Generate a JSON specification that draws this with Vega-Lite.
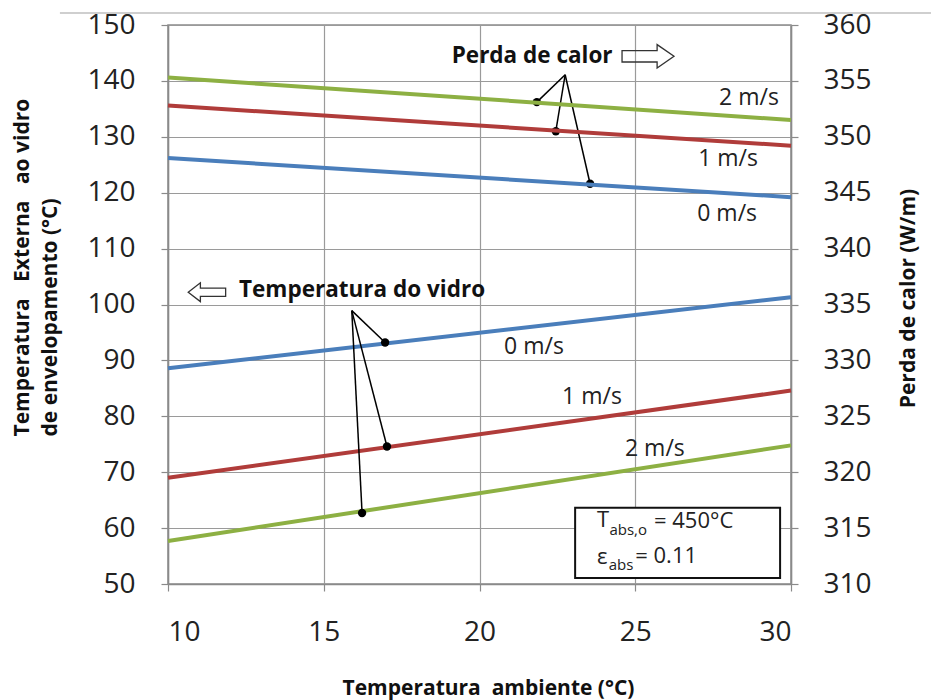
{
  "$schema": "https://vega.github.io/schema/vega-lite/v6.json",
  "width": 623,
  "height": 559,
  "autosize": {"type": "none"},
  "padding": {"left": 168, "top": 25, "right": 140, "bottom": 116},
  "background": "white",
  "config": {
    "view": {"stroke": "#8a8a8a", "strokeWidth": 1.5},
    "font": "Open Sans",
    "axis": {
      "labelFont": "Open Sans",
      "labelFontSize": 28,
      "labelColor": "#222",
      "titleFont": "Open Sans",
      "titleFontSize": 21,
      "titleFontWeight": "bold",
      "titleColor": "#111",
      "gridColor": "#9a9a9a",
      "gridWidth": 1.2,
      "domainColor": "#8a8a8a",
      "domainWidth": 1.5,
      "tickColor": "#8a8a8a",
      "tickWidth": 1.2,
      "tickSize": 7
    }
  },
  "datasets": {
    "vidro": [
      {"x": 10, "y": 88.6, "v": "0 m/s"},
      {"x": 30, "y": 101.3, "v": "0 m/s"},
      {"x": 10, "y": 69.0, "v": "1 m/s"},
      {"x": 30, "y": 84.6, "v": "1 m/s"},
      {"x": 10, "y": 57.7, "v": "2 m/s"},
      {"x": 30, "y": 74.8, "v": "2 m/s"}
    ],
    "perda": [
      {"x": 10, "p": 348.1, "v": "0 m/s"},
      {"x": 30, "p": 344.6, "v": "0 m/s"},
      {"x": 10, "p": 352.8, "v": "1 m/s"},
      {"x": 30, "p": 349.2, "v": "1 m/s"},
      {"x": 10, "p": 355.3, "v": "2 m/s"},
      {"x": 30, "p": 351.5, "v": "2 m/s"}
    ],
    "pointers": [
      {"x": 22.75, "y": 141.1, "x2": 21.84, "y2": 136.2},
      {"x": 22.75, "y": 141.1, "x2": 22.45, "y2": 131.0},
      {"x": 22.75, "y": 141.1, "x2": 23.55, "y2": 121.6},
      {"x": 15.9, "y": 98.9, "x2": 16.97, "y2": 93.2},
      {"x": 15.9, "y": 98.9, "x2": 17.03, "y2": 74.6},
      {"x": 15.9, "y": 98.9, "x2": 16.23, "y2": 62.7}
    ],
    "dots": [
      {"x": 21.84, "y": 136.2},
      {"x": 22.45, "y": 131.0},
      {"x": 23.55, "y": 121.6},
      {"x": 16.97, "y": 93.2},
      {"x": 17.03, "y": 74.6},
      {"x": 16.23, "y": 62.7}
    ],
    "speeds": [
      {"x": 28.65, "y": 136.9, "t": "2 m/s"},
      {"x": 27.98, "y": 126.0, "t": "1 m/s"},
      {"x": 27.95, "y": 116.25, "t": "0 m/s"},
      {"x": 21.75, "y": 92.4, "t": "0 m/s"},
      {"x": 23.61, "y": 83.4, "t": "1 m/s"},
      {"x": 25.63, "y": 74.1, "t": "2 m/s"}
    ],
    "headers": [
      {"x": 21.69, "y": 144.4, "t": "Perda de calor"},
      {"x": 16.23, "y": 102.6, "t": "Temperatura do vidro"}
    ]
  },
  "layer": [
    {
      "layer": [
        {
          "data": {"name": "vidro"},
          "mark": {"type": "line", "strokeWidth": 4},
          "encoding": {
            "x": {
              "field": "x", "type": "quantitative",
              "scale": {"domain": [10, 30], "nice": false, "zero": false},
              "axis": {"values": [10, 15, 20, 25, 30], "title": "Temperatura\u00a0\u00a0ambiente (°C)", "labelPadding": 27, "grid": true, "titleX": 320, "titleY": 104, "titleBaseline": "middle", "titleAlign": "center"}
            },
            "y": {
              "field": "y", "type": "quantitative",
              "scale": {"domain": [50, 150], "nice": false, "zero": false},
              "axis": {"orient": "left", "values": [50, 60, 70, 80, 90, 100, 110, 120, 130, 140, 150], "title": ["Temperatura\u00a0\u00a0\u00a0Externa\u00a0\u00a0\u00a0ao vidro", "de envelopamento (°C)"], "labelPadding": 26, "grid": true, "titleX": -146, "titleY": 411, "titleAngle": -90, "titleAlign": "left", "titleBaseline": "middle", "titleLineHeight": 28}
            },
            "color": {
              "field": "v", "type": "nominal",
              "scale": {"domain": ["0 m/s", "1 m/s", "2 m/s"], "range": ["#4a7ebb", "#b03c3a", "#8db043"]},
              "legend": null
            },
            "detail": {"field": "v"}
          }
        },
        {
          "data": {"values": [{"x": 6.53, "y": 152.15, "x2": 34.5, "y2": 152.15}]},
          "mark": {"type": "rule", "color": "#cfcfcf", "strokeWidth": 2, "clip": false},
          "encoding": {
            "x": {"field": "x", "type": "quantitative"},
            "y": {"field": "y", "type": "quantitative"},
            "x2": {"field": "x2"},
            "y2": {"field": "y2"}
          }
        },
        {
          "data": {"name": "pointers"},
          "mark": {"type": "rule", "color": "black", "strokeWidth": 1.5},
          "encoding": {
            "x": {"field": "x", "type": "quantitative"},
            "y": {"field": "y", "type": "quantitative"},
            "x2": {"field": "x2"},
            "y2": {"field": "y2"}
          }
        },
        {
          "data": {"name": "dots"},
          "mark": {"type": "point", "filled": true, "color": "black", "size": 70, "opacity": 1},
          "encoding": {
            "x": {"field": "x", "type": "quantitative"},
            "y": {"field": "y", "type": "quantitative"}
          }
        },
        {
          "data": {"name": "speeds"},
          "mark": {"type": "text", "fontSize": 23, "font": "Open Sans", "color": "#222", "align": "center", "baseline": "middle"},
          "encoding": {
            "x": {"field": "x", "type": "quantitative"},
            "y": {"field": "y", "type": "quantitative"},
            "text": {"field": "t"}
          }
        },
        {
          "data": {"name": "headers"},
          "mark": {"type": "text", "fontSize": 22.5, "fontWeight": "bold", "font": "Open Sans", "color": "#111", "align": "center", "baseline": "middle"},
          "encoding": {
            "x": {"field": "x", "type": "quantitative"},
            "y": {"field": "y", "type": "quantitative"},
            "text": {"field": "t"}
          }
        },
        {
          "data": {"values": [{"x": 25.41, "y": 144.4}]},
          "mark": {"type": "point", "shape": "M-1,-0.22 L0.35,-0.22 L0.35,-0.45 L1,0 L0.35,0.45 L0.35,0.22 L-1,0.22 Z", "filled": false, "stroke": "#333", "strokeWidth": 1.3, "size": 2700, "opacity": 1},
          "encoding": {
            "x": {"field": "x", "type": "quantitative"},
            "y": {"field": "y", "type": "quantitative"}
          }
        },
        {
          "data": {"values": [{"x": 11.25, "y": 102.2}]},
          "mark": {"type": "point", "shape": "M1,-0.22 L-0.35,-0.22 L-0.35,-0.5 L-1,0 L-0.35,0.5 L-0.35,0.22 L1,0.22 Z", "filled": false, "stroke": "#333", "strokeWidth": 1.3, "size": 1400, "opacity": 1},
          "encoding": {
            "x": {"field": "x", "type": "quantitative"},
            "y": {"field": "y", "type": "quantitative"}
          }
        },
        {
          "data": {"values": [{"x": 23.07, "y": 63.64, "x2": 29.65, "y2": 51.08}]},
          "mark": {"type": "rect", "fill": "white", "stroke": "#111", "strokeWidth": 2},
          "encoding": {
            "x": {"field": "x", "type": "quantitative"},
            "y": {"field": "y", "type": "quantitative"},
            "x2": {"field": "x2"},
            "y2": {"field": "y2"}
          }
        },
        {
          "data": {"values": [{"x": 23.77, "y": 61.49, "t": "T"}, {"x": 25.6, "y": 61.31, "t": "= 450°C"}, {"x": 23.77, "y": 54.85, "t": "ε"}, {"x": 25.0, "y": 55.03, "t": "= 0.11"}]},
          "mark": {"type": "text", "fontSize": 22, "font": "Open Sans", "color": "#222", "align": "left", "baseline": "middle"},
          "encoding": {
            "x": {"field": "x", "type": "quantitative"},
            "y": {"field": "y", "type": "quantitative"},
            "text": {"field": "t"}
          }
        },
        {
          "data": {"values": [{"x": 24.17, "y": 59.69, "t": "abs,o"}, {"x": 24.15, "y": 53.41, "t": "abs"}]},
          "mark": {"type": "text", "fontSize": 15, "font": "Open Sans", "color": "#222", "align": "left", "baseline": "middle"},
          "encoding": {
            "x": {"field": "x", "type": "quantitative"},
            "y": {"field": "y", "type": "quantitative"},
            "text": {"field": "t"}
          }
        }
      ]
    },
    {
      "data": {"name": "perda"},
      "mark": {"type": "line", "strokeWidth": 4},
      "encoding": {
        "x": {"field": "x", "type": "quantitative"},
        "y": {
          "field": "p", "type": "quantitative",
          "scale": {"domain": [310, 360], "nice": false, "zero": false},
          "axis": {"orient": "right", "values": [310, 315, 320, 325, 330, 335, 340, 345, 350, 355, 360], "title": "Perda de calor (W/m)", "grid": false, "labelPadding": 25, "titleX": 117, "titleY": 273, "titleAngle": -90, "titleAlign": "center", "titleBaseline": "middle"}
        },
        "color": {"field": "v", "type": "nominal", "legend": null},
        "detail": {"field": "v"}
      }
    }
  ],
  "resolve": {"scale": {"y": "independent"}}
}
